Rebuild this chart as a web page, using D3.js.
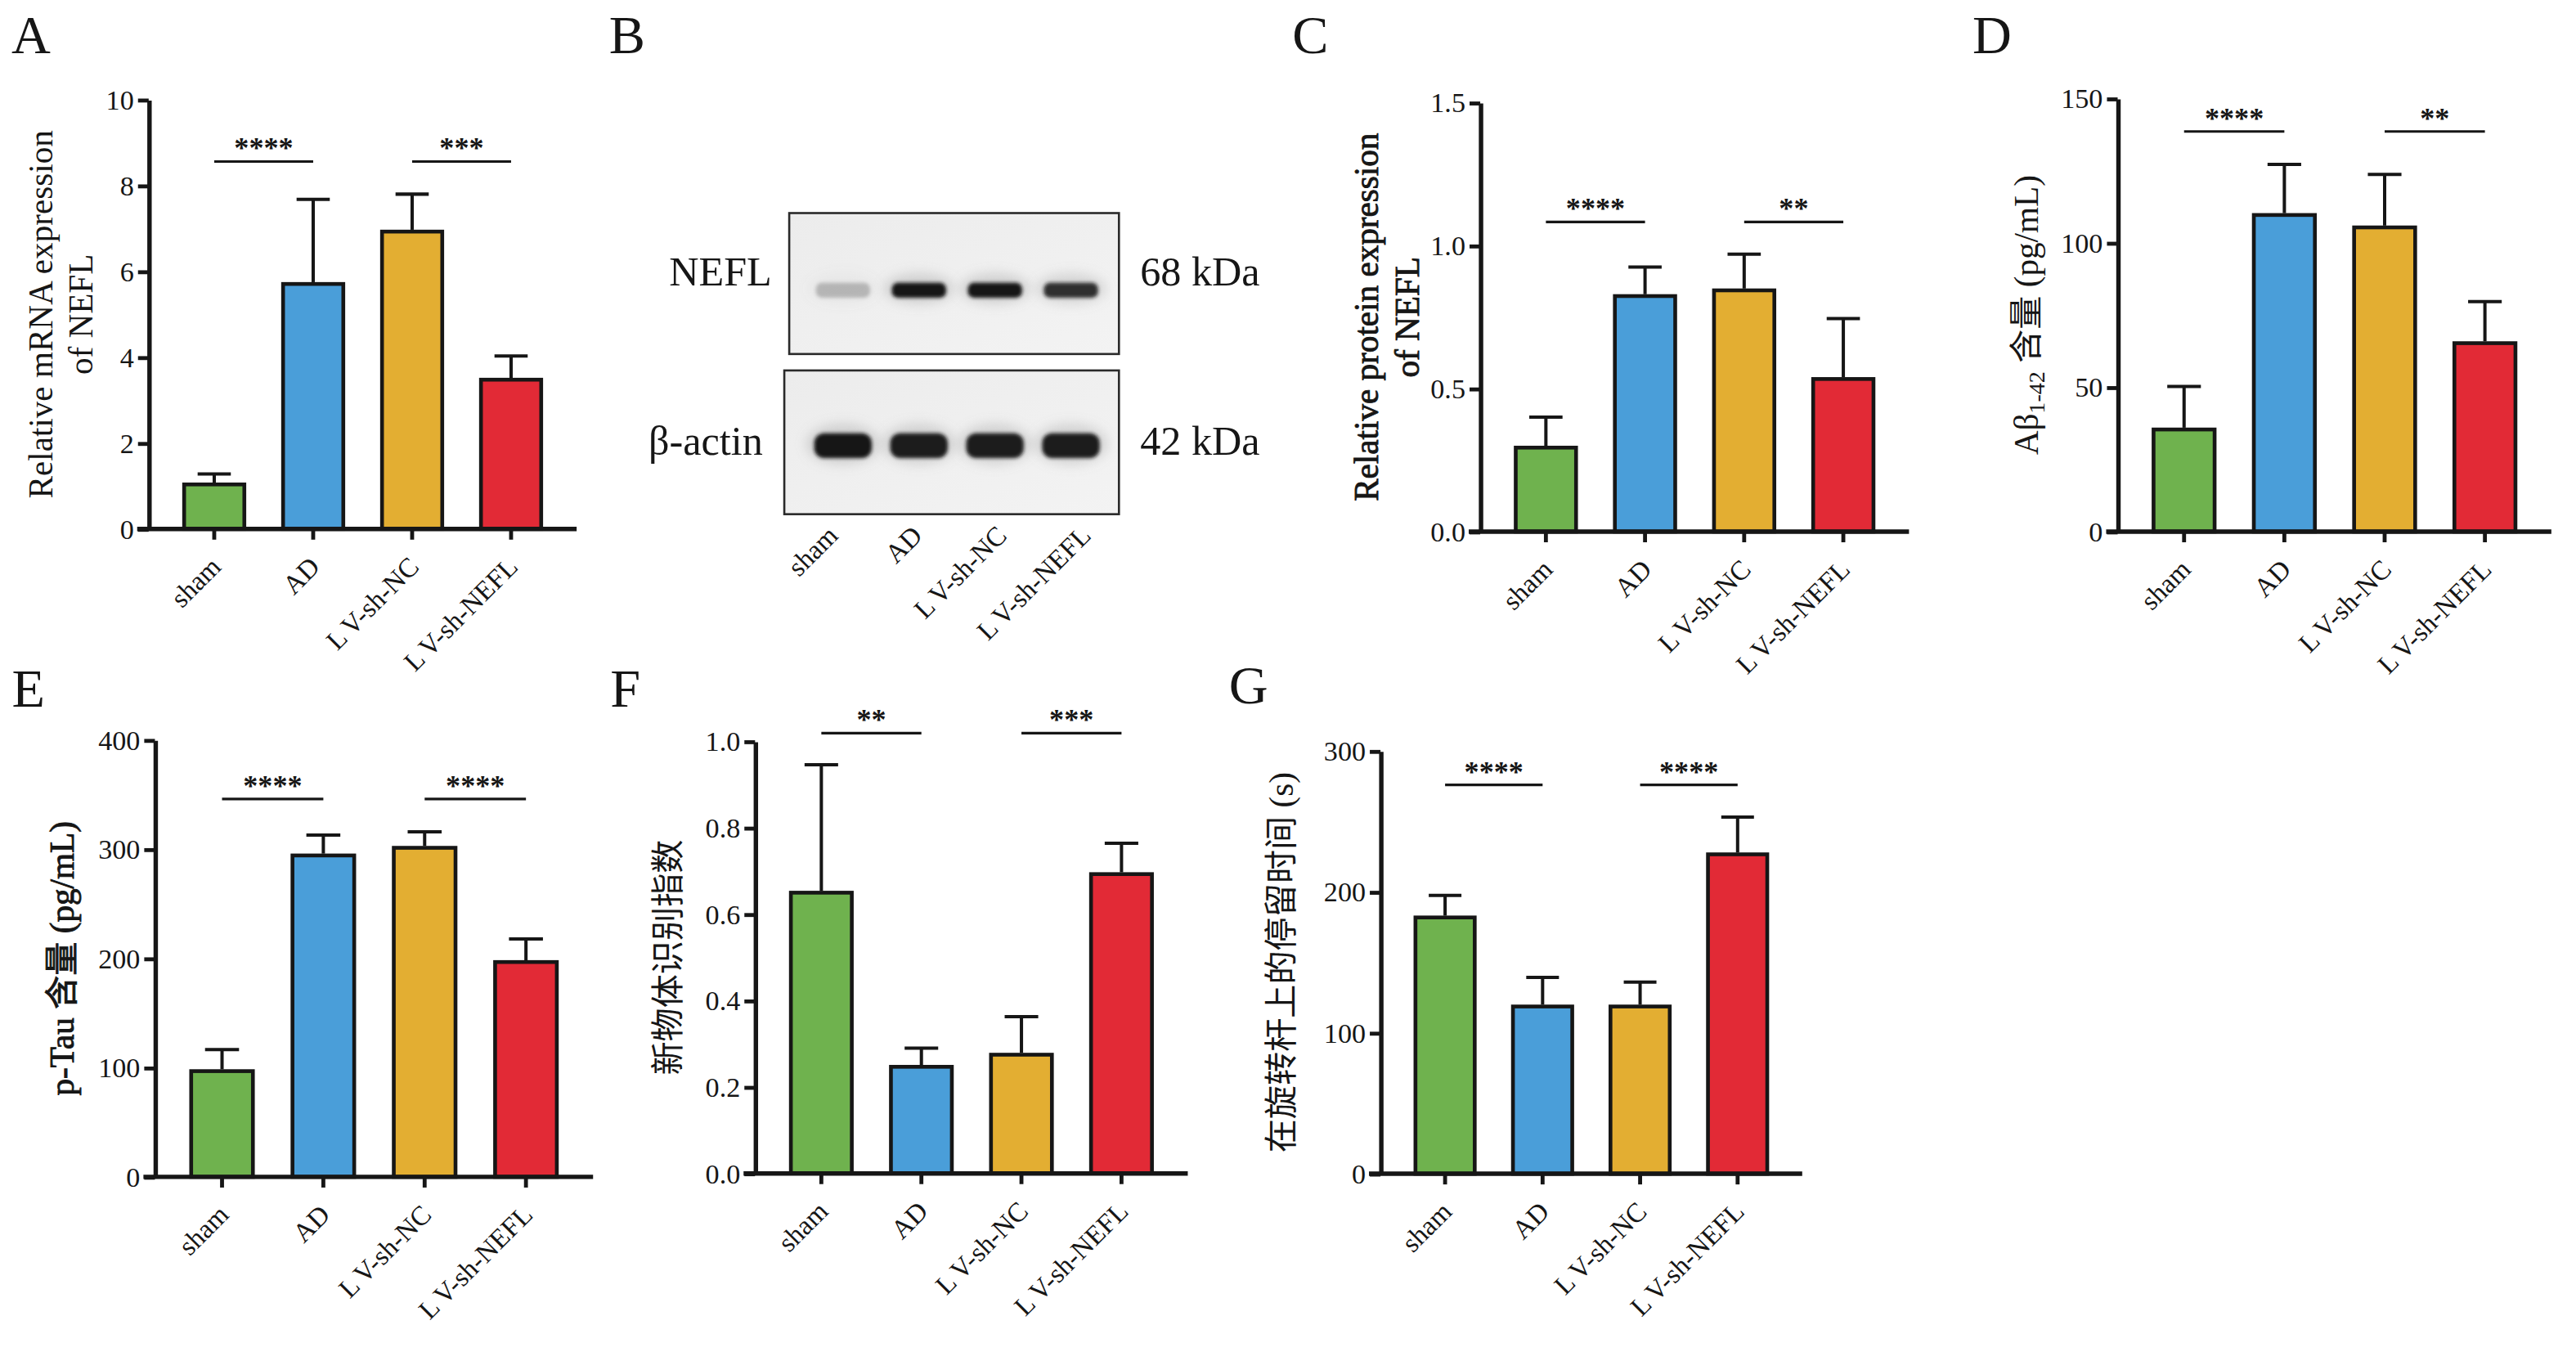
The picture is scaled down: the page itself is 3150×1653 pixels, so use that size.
<!DOCTYPE html>
<html>
<head>
<meta charset="utf-8">
<script src="https://cdn.jsdelivr.net/npm/d3@7"></script>
<style>
  html, body { margin: 0; background: #fff; }
  svg { display: block; }
  text { font-family: "Liberation Serif", "Times New Roman", "Noto Sans CJK SC", serif; fill: #161616; }
</style>
</head>
<body>
<div id="app"></div>
<script>
// groups + colours shared by every panel
const GROUPS = ['sham', 'AD', 'LV-sh-NC', 'LV-sh-NEFL'];
const COLORS = ['#6fb24e', '#4a9ed9', '#e3ae32', '#e22a36'];

// A: relative mRNA expression of NEFL
const MRNA_MEAN = [1.08, 5.75, 6.97, 3.52];
const MRNA_SD = [0.2, 1.93, 0.83, 0.51];
const MRNA_TICKS = [0, 2, 4, 6, 8, 10];

// B: western blot band strengths
const NEFL_BAND = [0.22, 1, 1, 0.88];
const ACTIN_BAND = [1, 0.97, 0.97, 0.97];
const BLOT_ROWS = ['NEFL', 'β-actin'];
const BLOT_KDA = ['68 kDa', '42 kDa'];

// C: relative protein expression of NEFL
const PROT_MEAN = [0.3, 0.83, 0.85, 0.54];
const PROT_SD = [0.1, 0.095, 0.12, 0.205];
const PROT_TICKS = [0, 0.5, 1.0, 1.5];

// D: Abeta 1-42
const ABETA_MEAN = [36, 110.3, 106, 65.9];
const ABETA_SD = [14.3, 16.9, 17.7, 13.8];
const ABETA_TICKS = [0, 50, 100, 150];

// E: p-Tau
const PTAU_MEAN = [98.5, 296, 303, 198.4];
const PTAU_SD = [18, 17, 13, 19.5];
const PTAU_TICKS = [0, 100, 200, 300, 400];

// F: novel object recognition index
const NOR_MEAN = [0.654, 0.251, 0.279, 0.697];
const NOR_SD = [0.292, 0.039, 0.084, 0.067];
const NOR_TICKS = [0, 0.2, 0.4, 0.6, 0.8, 1.0];

// G: rotarod latency
const ROD_MEAN = [183.2, 120, 120, 228];
const ROD_SD = [14.4, 19.3, 16, 25.2];
const ROD_TICKS = [0, 100, 200, 300];

// significance brackets: [from, to, level, stars]
const SIG_A = [[0, 1, 8.56, '****'], [2, 3, 8.56, '***']];
const SIG_C = [[0, 1, 1.083, '****'], [2, 3, 1.083, '**']];
const SIG_D = [[0, 1, 138.6, '****'], [2, 3, 138.6, '**']];
const SIG_E = [[0, 1, 346, '****'], [2, 3, 346, '****']];
const SIG_F = [[0, 1, 1.019, '**'], [2, 3, 1.019, '***']];
const SIG_G = [[0, 1, 276, '****'], [2, 3, 276, '****']];

const W = 1568, H = 823;
const INK = '#161616';

const svg = d3.select('#app').append('svg')
  .attr('width', 3150).attr('height', 1653)
  .attr('viewBox', `0 0 ${W} ${H}`)
  .attr('preserveAspectRatio', 'none');

const defs = svg.append('defs');
const blur = (id, s) => defs.append('filter').attr('id', id)
  .attr('x', '-60%').attr('y', '-150%').attr('width', '220%').attr('height', '400%')
  .append('feGaussianBlur').attr('stdDeviation', s);
blur('blurS', 1.1);
blur('blurL', 3.5);
const grad = defs.append('linearGradient').attr('id', 'blotBg').attr('x1', 0).attr('x2', 1).attr('y1', 0).attr('y2', 1);
grad.append('stop').attr('offset', 0).attr('stop-color', '#ececec');
grad.append('stop').attr('offset', 1).attr('stop-color', '#f3f3f3');

function letter(t, x, y) {
  svg.append('text').attr('x', x).attr('y', y).attr('font-size', 33).text(t);
}

// group names are set with the small gap seen after the "L" in "LV"
function groupLabel(sel) {
  sel.each(function (d) {
    const t = d3.select(this);
    if (d.startsWith('LV')) {
      t.append('tspan').text('L');
      t.append('tspan').attr('dx', 2.5).text(d.slice(1));
    } else {
      t.text(d);
    }
  });
}

function barPanel(p) {
  const g = svg.append('g');
  const x = d3.scaleBand().domain(GROUPS).range([p.x0, p.x1]).paddingInner(0.355).paddingOuter(0.34);
  const y = d3.scaleLinear().domain(p.domain).range([p.y0, p.yTop]);
  const bw = x.bandwidth();
  const cx = (i) => x(GROUPS[i]) + bw / 2;

  // error bars (upper only)
  const eb = g.selectAll('g.err').data(p.mean).join('g');
  eb.append('line')
    .attr('x1', (d, i) => cx(i)).attr('x2', (d, i) => cx(i))
    .attr('y1', (d) => y(d)).attr('y2', (d, i) => y(d + p.sd[i]))
    .attr('stroke', INK).attr('stroke-width', 2);
  eb.append('line')
    .attr('x1', (d, i) => cx(i) - bw * 0.26).attr('x2', (d, i) => cx(i) + bw * 0.26)
    .attr('y1', (d, i) => y(d + p.sd[i])).attr('y2', (d, i) => y(d + p.sd[i]))
    .attr('stroke', INK).attr('stroke-width', 2);

  // bars
  g.selectAll('rect.bar').data(p.mean).join('rect')
    .attr('class', 'bar')
    .attr('x', (d, i) => x(GROUPS[i]) + 1.1)
    .attr('y', (d) => y(d) + 1.1)
    .attr('width', bw - 2.2)
    .attr('height', (d) => y(0) - y(d) - 1.1)
    .attr('fill', (d, i) => COLORS[i])
    .attr('stroke', INK)
    .attr('stroke-width', 2.3);

  // y axis
  const ya = g.append('g').attr('transform', `translate(${p.x0},0)`)
    .call(d3.axisLeft(y).tickValues(p.ticks).tickFormat(p.fmt).tickSize(6.5).tickSizeOuter(0).tickPadding(2.5));
  ya.select('.domain').attr('stroke', INK).attr('stroke-width', 2.7);
  ya.selectAll('.tick line').attr('stroke', INK).attr('stroke-width', 2.4);
  ya.selectAll('.tick text').attr('font-size', 17).attr('font-family', null).attr('fill', INK);

  // x axis
  const xa = g.append('g').attr('transform', `translate(0,${p.y0})`)
    .call(d3.axisBottom(x).tickSize(6.5).tickSizeOuter(0).tickFormat(''));
  xa.select('.domain').remove();
  xa.selectAll('.tick line').attr('stroke', INK).attr('stroke-width', 2.4);
  g.append('line')
    .attr('x1', p.x0 - 7).attr('x2', p.x1)
    .attr('y1', p.y0).attr('y2', p.y0)
    .attr('stroke', INK).attr('stroke-width', 2.7);

  g.selectAll('text.xl').data(GROUPS).join('text')
    .attr('class', 'xl')
    .attr('transform', (d, i) => `translate(${cx(i) + 5},${p.y0 + 24}) rotate(-45)`)
    .attr('text-anchor', 'end')
    .attr('font-size', 16.5)
    .call(groupLabel);

  // significance
  p.sig.forEach(([a, b, lv, s]) => {
    g.append('line')
      .attr('x1', cx(a)).attr('x2', cx(b))
      .attr('y1', y(lv)).attr('y2', y(lv))
      .attr('stroke', INK).attr('stroke-width', 1.6);
    g.append('text')
      .attr('x', (cx(a) + cx(b)) / 2).attr('y', y(lv) - 2)
      .attr('text-anchor', 'middle')
      .attr('font-size', 18).attr('font-weight', 'bold')
      .text(s);
  });

  // y title
  const ymid = (p.y0 + p.yTop) / 2;
  const t = g.append('text')
    .attr('transform', `translate(${p.labelX},${ymid}) rotate(-90)`)
    .attr('text-anchor', 'middle')
    .attr('font-size', 20.5)
    .attr('dy', '0.33em');
  if (p.heavy) t.attr('stroke', INK).attr('stroke-width', 0.45);
  p.title(t);
}

const fmt1 = d3.format('.1f');
const fmt0 = d3.format('d');

const twoLine = (a, b) => (t) => {
  t.attr('dy', null);
  t.append('tspan').attr('x', 0).attr('dy', '-0.25em').text(a);
  t.append('tspan').attr('x', 0).attr('dy', '1.2em').text(b);
};
const oneLine = (a) => (t) => t.text(a);

barPanel({
  x0: 90.5, x1: 351, yTop: 60.7, y0: 322, domain: [0, 10],
  ticks: MRNA_TICKS, fmt: fmt0, mean: MRNA_MEAN, sd: MRNA_SD, sig: SIG_A,
  labelX: 37, title: twoLine('Relative mRNA expression', 'of NEFL'),
});
barPanel({
  x0: 901, x1: 1162, yTop: 62.5, y0: 323.6, domain: [0, 1.5],
  ticks: PROT_TICKS, fmt: fmt1, mean: PROT_MEAN, sd: PROT_SD, sig: SIG_C,
  labelX: 844, heavy: true, title: twoLine('Relative protein expression', 'of NEFL'),
});
barPanel({
  x0: 1289, x1: 1553, yTop: 60, y0: 323.6, domain: [0, 150],
  ticks: ABETA_TICKS, fmt: fmt0, mean: ABETA_MEAN, sd: ABETA_SD, sig: SIG_D,
  labelX: 1233.5,
  title: (t) => {
    t.append('tspan').text('Aβ');
    t.append('tspan').attr('font-size', 14).attr('dy', 4).text('1-42');
    t.append('tspan').attr('dy', -4).text(' 含量 (pg/mL)');
  },
});
barPanel({
  x0: 94.3, x1: 361, yTop: 450.5, y0: 716.4, domain: [0, 400],
  ticks: PTAU_TICKS, fmt: fmt0, mean: PTAU_MEAN, sd: PTAU_SD, sig: SIG_E,
  labelX: 38, heavy: true, title: oneLine('p-Tau 含量 (pg/mL)'),
});
barPanel({
  x0: 459.6, x1: 723, yTop: 451.3, y0: 714.3, domain: [0, 1],
  ticks: NOR_TICKS, fmt: fmt1, mean: NOR_MEAN, sd: NOR_SD, sig: SIG_F,
  labelX: 407, title: oneLine('新物体识别指数'),
});
barPanel({
  x0: 840.3, x1: 1097, yTop: 457.2, y0: 714.5, domain: [0, 300],
  ticks: ROD_TICKS, fmt: fmt0, mean: ROD_MEAN, sd: ROD_SD, sig: SIG_G,
  labelX: 780, title: oneLine('在旋转杆上的停留时间 (s)'),
});

// B: western blot
(() => {
  const g = svg.append('g');
  const lane = d3.scaleBand().domain(GROUPS).range([490, 675]);
  const lc = (i) => lane(GROUPS[i]) + lane.bandwidth() / 2;
  const boxes = [
    { x: 480.4, y: 129.7, w: 200.7, h: 85.8, cy: 176.7, bw: 33, bh: 9, band: NEFL_BAND },
    { x: 477.4, y: 225.5, w: 203.7, h: 87.5, cy: 271.3, bw: 35, bh: 15, band: ACTIN_BAND },
  ];
  boxes.forEach((b, r) => {
    g.append('rect').attr('x', b.x).attr('y', b.y).attr('width', b.w).attr('height', b.h)
      .attr('fill', 'url(#blotBg)').attr('stroke', '#2a2a2a').attr('stroke-width', 1.3);
    // haze under bands
    g.selectAll(null).data(b.band).join('ellipse')
      .attr('cx', (d, i) => lc(i)).attr('cy', b.cy - 1)
      .attr('rx', b.bw / 2 + 5).attr('ry', b.bh / 2 + 5)
      .attr('fill', '#8a8a8a').attr('fill-opacity', (d) => d * 0.3)
      .attr('filter', 'url(#blurL)');
    g.selectAll(null).data(b.band).join('rect')
      .attr('x', (d, i) => lc(i) - b.bw / 2).attr('y', b.cy - b.bh / 2)
      .attr('width', b.bw).attr('height', b.bh)
      .attr('rx', b.bh / 2.5)
      .attr('fill', '#141414').attr('fill-opacity', (d) => d)
      .attr('filter', 'url(#blurS)');
    g.append('text').attr('x', 469.8 - (r ? 5.5 : 0)).attr('y', r ? 277 : 174)
      .attr('text-anchor', 'end').attr('font-size', 25).text(BLOT_ROWS[r]);
    g.append('text').attr('x', 694).attr('y', r ? 277 : 174)
      .attr('font-size', 25).text(BLOT_KDA[r]);
  });
  const lbl = d3.scalePoint().domain(GROUPS).range([511, 665]);
  g.selectAll('text.ll').data(GROUPS).join('text')
    .attr('class', 'll')
    .attr('transform', (d) => `translate(${lbl(d)},${327}) rotate(-45)`)
    .attr('text-anchor', 'end').attr('font-size', 16.5).call(groupLabel);
})();

letter('A', 7, 32.5);
letter('B', 370.7, 32.5);
letter('C', 786.6, 32.5);
letter('D', 1200.6, 32.5);
letter('E', 7.2, 430.2);
letter('F', 371.5, 430.2);
letter('G', 748, 428);
</script>
</body>
</html>
